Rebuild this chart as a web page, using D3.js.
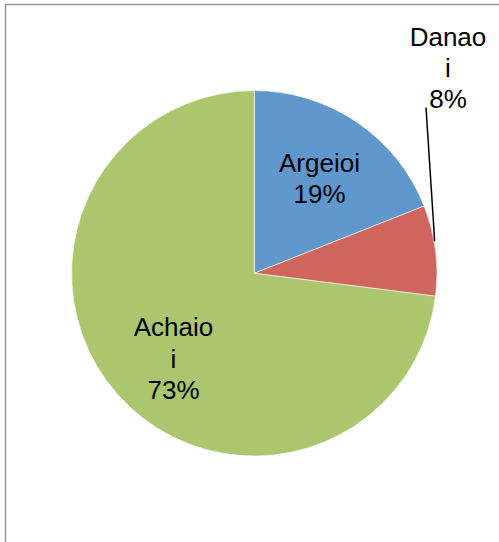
<!DOCTYPE html>
<html>
<head>
<meta charset="utf-8">
<script src="https://cdn.jsdelivr.net/npm/d3@7"></script>
<style>
  html, body { margin: 0; padding: 0; background: #fff; }
  svg { display: block; }
</style>
</head>
<body>
<script>
// Share of each name (percent)
const categories = ["Argeioi", "Danaoi", "Achaioi"];
const values = [19, 8, 73];
// Labels as they wrap inside their boxes
const labelLines = [["Argeioi", "19%"], ["Danao", "i", "8%"], ["Achaio", "i", "73%"]];
const colors = ["#6097CC", "#CF665E", "#ABC66D"];

const W = 499, H = 542;
const cx = 254.3, cy = 273.3, R = 182.7;

const svg = d3.select("body").append("svg")
  .attr("width", W).attr("height", H);

// chart frame (runs off the right and bottom edges)
svg.append("path")
  .attr("d", `M5.5,${H + 2} V4.5 H${W + 2}`)
  .attr("fill", "none")
  .attr("stroke", "#989898")
  .attr("stroke-width", 1.5);

const pie = d3.pie().sort(null).value(d => d)(values);
const arc = d3.arc().innerRadius(0).outerRadius(R);

const g = svg.append("g").attr("transform", `translate(${cx},${cy})`);

g.selectAll("path.slice")
  .data(pie)
  .join("path")
  .attr("class", "slice")
  .attr("d", arc)
  .attr("fill", (d, i) => colors[i])
  .attr("stroke", "#ffffff")
  .attr("stroke-width", 0.6);

// label placement per slice (centre x, first baseline), relative to the pie centre
const labelPos = [
  { x: 319.5 - cx, y: 171.5 - cy },
  { x: 448 - cx, y: 45.5 - cy },
  { x: 173.5 - cx, y: 336.5 - cy }
];
const lineH = 31.3;

const labels = g.selectAll("text.lbl")
  .data(pie)
  .join("text")
  .attr("class", "lbl")
  .attr("text-anchor", "middle")
  .attr("font-family", "Arial, 'Liberation Sans', sans-serif")
  .attr("font-size", 26)
  .attr("fill", "#000");

labels.each(function (d, i) {
  const t = d3.select(this);
  labelLines[i].forEach((s, k) => {
    t.append("tspan")
      .attr("x", labelPos[i].x)
      .attr("y", labelPos[i].y + k * lineH)
      .text(s);
  });
});

// leader line for the small slice, from its label down to the slice edge
const small = pie[1];
const a = small.startAngle + 0.4 * (small.endAngle - small.startAngle);
const ex = Math.sin(a) * (R + 0.5), ey = -Math.cos(a) * (R + 0.5);
g.append("line")
  .attr("x1", 426 - cx).attr("y1", 107.5 - cy)
  .attr("x2", ex).attr("y2", ey)
  .attr("stroke", "#000")
  .attr("stroke-width", 1.5);
</script>
</body>
</html>
